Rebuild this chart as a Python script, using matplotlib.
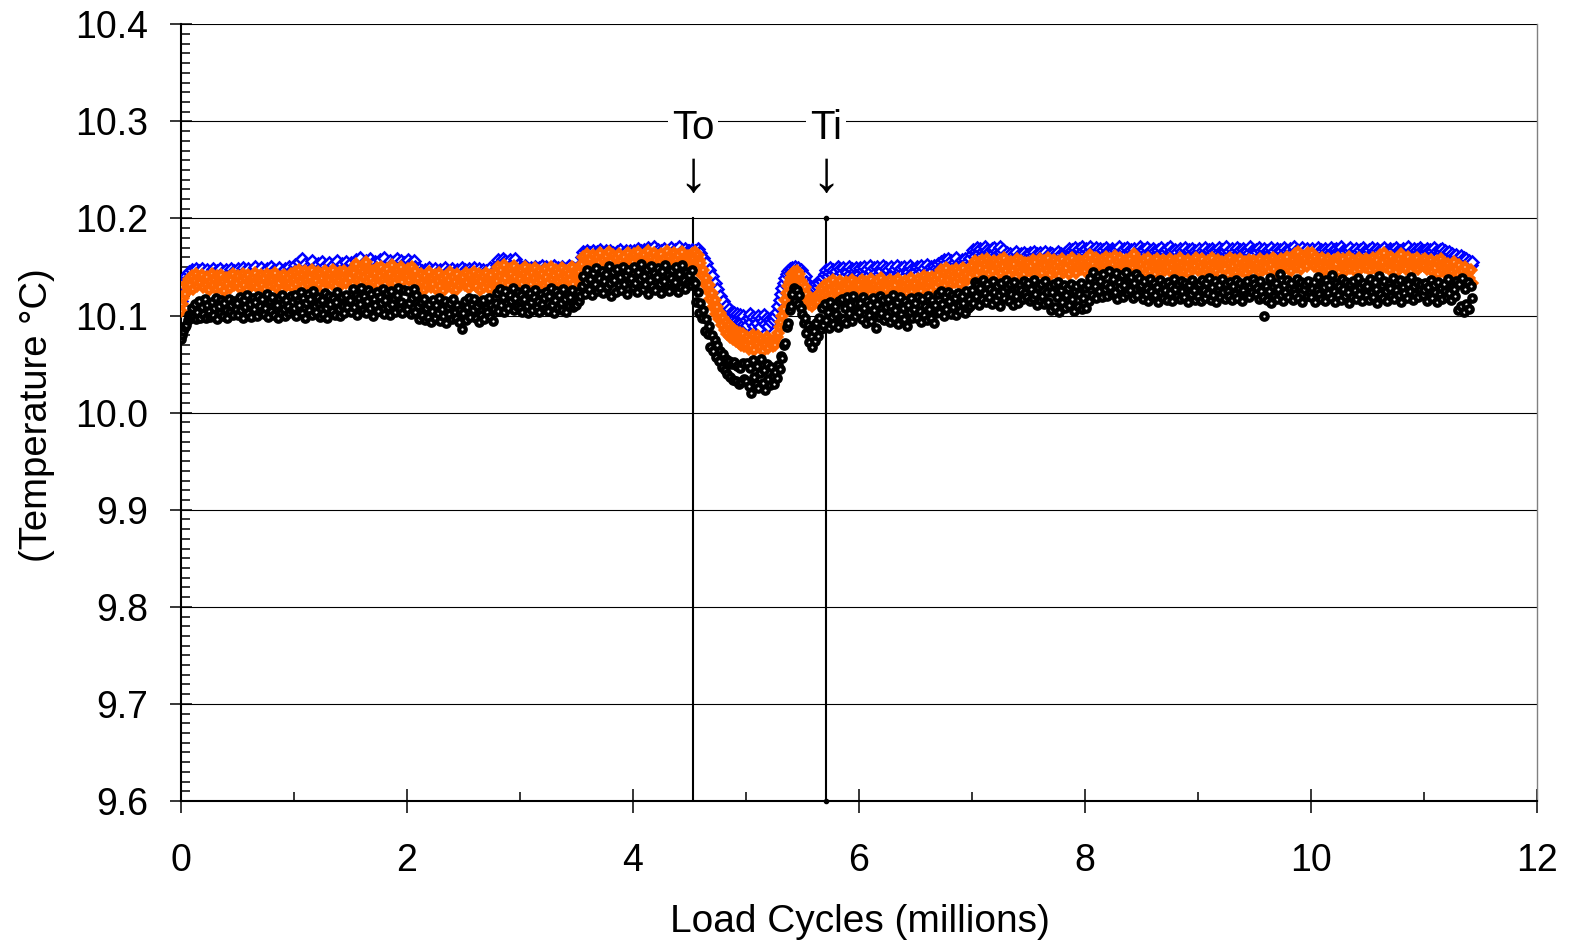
import numpy as np
import matplotlib
matplotlib.use("Agg")
import matplotlib.pyplot as plt
from matplotlib.ticker import MultipleLocator, FormatStrFormatter

plt.rcParams['font.family'] = ['Liberation Sans', 'DejaVu Sans']

# one reading every 12,500 load cycles (x axis in millions)
step = 0.0125
base_temp = 10.0  # deg C, readings below are millidegrees above this

# gauge readings, one row per half million cycles
blue_mc = [
    115, 124, 131, 136, 141, 138, 145, 140, 147, 136, 143, 148, 139, 146, 142, 148, 137, 145, 141, 147, 135, 144, 139, 148, 143, 136, 146, 140, 148, 138, 145, 142, 147, 134, 144, 139, 148, 141, 146, 137,
    143, 148, 138, 145, 149, 140, 146, 137, 148, 142, 139, 147, 144, 150, 141, 146, 143, 149, 138, 145, 140, 148, 136, 144, 150, 142, 147, 139, 146, 143, 149, 137, 145, 141, 148, 144, 139, 150, 142, 147,
    146, 152, 141, 149, 155, 144, 158, 142, 153, 147, 143, 151, 148, 156, 145, 150, 146, 153, 142, 149, 155, 144, 151, 147, 140, 154, 148, 143, 152, 146, 150, 156, 145, 141, 153, 148, 144, 155, 149, 151,
    148, 154, 143, 151, 157, 146, 152, 159, 145, 153, 149, 156, 144, 151, 158, 147, 154, 150, 155, 146, 152, 157, 145, 150, 159, 148, 153, 144, 156, 151, 147, 155, 149, 158, 143, 152, 156, 146, 154, 150,
    152, 157, 149, 154, 145, 156, 150, 147, 141, 148, 139, 146, 143, 147, 140, 145, 149, 138, 146, 142, 148, 139, 145, 141, 147, 137, 144, 149, 140, 146, 143, 138, 148, 142, 145, 140, 147, 139, 144, 149,
    141, 147, 138, 144, 148, 140, 146, 143, 149, 139, 145, 148, 137, 143, 147, 141, 146, 138, 144, 149, 140, 145, 142, 147, 152, 157, 149, 155, 158, 150, 156, 148, 153, 157, 146, 154, 151, 158, 147, 152,
    144, 150, 141, 147, 151, 143, 148, 140, 149, 145, 142, 150, 146, 141, 149, 144, 151, 143, 147, 150, 145, 140, 148, 143, 151, 146, 142, 149, 144, 147, 150, 141, 146, 148, 143, 151, 145, 140, 149, 147,
    148, 145, 151, 147, 160, 165, 157, 163, 167, 159, 164, 156, 166, 161, 158, 165, 160, 168, 157, 163, 159, 166, 155, 162, 167, 158, 164, 161, 156, 165, 160, 168, 157, 163, 159, 166, 162, 158, 167, 161,
    161, 167, 158, 164, 169, 160, 166, 157, 168, 162, 159, 170, 163, 167, 158, 171, 164, 160, 168, 162, 166, 159, 169, 163, 157, 167, 161, 170, 164, 158, 168, 162, 165, 171, 160, 166, 163, 169, 159, 167,
    167, 163, 168, 162, 166, 160, 169, 164, 164, 153, 159, 148, 154, 142, 147, 136, 141, 129, 134, 122, 127, 115, 120, 109, 115, 104, 110, 100, 107, 97, 104, 95, 103, 94, 102, 93, 101, 92, 100, 91,
    95, 90, 97, 102, 93, 99, 89, 96, 92, 100, 88, 97, 94, 101, 91, 98, 89, 96, 93, 99, 95, 100, 104, 110, 116, 122, 128, 134, 139, 143, 146, 148, 145, 149, 146, 150, 147, 149, 145, 147,
    144, 140, 141, 135, 131, 127, 129, 125, 130, 128, 132, 129, 134, 137, 136, 140, 143, 147, 141, 145, 149, 143, 147, 140, 146, 150, 142, 148, 144, 149, 141, 147, 145, 150, 143, 148, 141, 146, 149, 144,
    143, 149, 141, 147, 150, 144, 148, 142, 151, 146, 140, 149, 145, 150, 143, 148, 146, 151, 142, 149, 144, 147, 141, 150, 145, 143, 148, 151, 142, 146, 149, 144, 150, 141, 147, 145, 151, 143, 148, 146,
    145, 150, 143, 148, 151, 146, 149, 142, 152, 147, 144, 150, 146, 151, 143, 149, 153, 148, 155, 151, 157, 149, 154, 158, 150, 156, 152, 147, 155, 159, 151, 154, 149, 157, 153, 158, 150, 156, 152, 159,
    163, 168, 161, 166, 170, 164, 169, 162, 167, 171, 165, 168, 160, 166, 169, 163, 170, 162, 167, 164, 171, 165, 168, 161, 160, 164, 158, 163, 156, 162, 159, 165, 157, 161, 155, 163, 158, 164, 160, 162,
    159, 164, 156, 162, 165, 158, 163, 160, 164, 157, 162, 159, 165, 155, 161, 164, 158, 163, 156, 162, 160, 165, 157, 163, 159, 161, 164, 158, 166, 169, 163, 168, 165, 170, 162, 167, 169, 164, 171, 166,
    164, 169, 162, 167, 171, 165, 168, 163, 170, 166, 161, 169, 164, 168, 162, 170, 165, 167, 163, 169, 166, 160, 168, 164, 171, 162, 167, 165, 169, 163, 170, 166, 161, 168, 164, 169, 162, 167, 165, 171,
    166, 161, 168, 164, 170, 162, 167, 165, 169, 160, 166, 163, 168, 164, 170, 161, 167, 165, 169, 163, 171, 164, 166, 162, 168, 165, 160, 169, 163, 167, 164, 170, 162, 166, 168, 161, 169, 165, 167, 163,
    165, 169, 162, 167, 164, 170, 161, 166, 168, 163, 169, 165, 160, 167, 164, 170, 162, 168, 165, 166, 171, 163, 167, 161, 169, 164, 166, 162, 170, 165, 168, 163, 169, 166, 160, 167, 164, 171, 162, 168,
    163, 168, 165, 170, 161, 167, 164, 169, 162, 166, 168, 163, 170, 165, 167, 161, 169, 164, 168, 166, 162, 170, 165, 167, 163, 169, 160, 166, 171, 164, 168, 162, 167, 165, 170, 163, 166, 169, 161, 167,
    162, 169, 165, 167, 163, 170, 164, 168, 166, 161, 169, 165, 167, 163, 170, 164, 168, 162, 169, 166, 164, 171, 163, 167, 165, 160, 168, 166, 170, 162, 167, 164, 169, 165, 161, 168, 163, 170, 166, 164,
    164, 168, 162, 170, 165, 167, 163, 169, 166, 161, 168, 164, 170, 165, 167, 162, 169, 166, 168, 163, 170, 165, 161, 167, 164, 169, 162, 168, 166, 171, 163, 167, 165, 169, 162, 168, 164, 170, 166, 163,
    167, 164, 169, 165, 168, 162, 166, 170, 164, 167, 161, 168, 165, 169, 163, 166, 164, 160, 165, 158, 163, 161, 157, 162, 159, 155, 161, 156, 159, 154, 158, 153, 156, 152, 155,
]

orange_mc = [
    105, 112, 118, 122, 133, 128, 138, 131, 141, 127, 136, 143, 130, 139, 134, 142, 129, 137, 132, 140, 126, 135, 143, 131, 138, 127, 141, 134, 129, 142, 136, 125, 139, 133, 140, 128, 137, 143, 131, 135,
    134, 141, 128, 137, 143, 131, 139, 126, 142, 135, 130, 140, 133, 144, 129, 138, 136, 142, 131, 139, 127, 143, 135, 130, 141, 137, 132, 144, 128, 138, 134, 140, 126, 142, 136, 131, 139, 133, 143, 129,
    137, 145, 132, 141, 147, 135, 143, 130, 146, 138, 133, 144, 140, 147, 134, 142, 136, 145, 131, 143, 139, 128, 146, 135, 141, 137, 144, 132, 147, 138, 130, 143, 136, 145, 133, 140, 146, 134, 142, 139,
    139, 146, 133, 144, 153, 137, 142, 148, 135, 145, 140, 155, 136, 143, 147, 138, 146, 134, 144, 149, 131, 141, 150, 137, 145, 133, 148, 139, 143, 136, 152, 140, 134, 147, 142, 138, 150, 135, 144, 141,
    141, 148, 137, 145, 150, 139, 146, 134, 139, 128, 143, 134, 126, 141, 131, 137, 145, 129, 138, 133, 142, 127, 136, 144, 130, 139, 125, 134, 141, 132, 137, 145, 128, 140, 135, 126, 143, 131, 138, 136,
    140, 131, 144, 135, 128, 142, 137, 133, 145, 130, 139, 143, 126, 136, 141, 129, 144, 134, 138, 127, 142, 132, 137, 145, 136, 150, 141, 147, 134, 152, 139, 145, 131, 148, 143, 137, 151, 140, 146, 133,
    138, 146, 133, 143, 150, 136, 141, 147, 132, 144, 139, 149, 135, 142, 146, 137, 143, 131, 148, 140, 134, 145, 150, 138, 142, 130, 147, 136, 144, 139, 149, 133, 141, 146, 135, 143, 137, 150, 132, 145,
    142, 137, 145, 139, 153, 160, 148, 157, 163, 151, 158, 146, 162, 154, 149, 160, 155, 164, 150, 158, 147, 161, 153, 165, 149, 156, 162, 145, 159, 152, 163, 148, 157, 151, 160, 154, 146, 164, 155, 159,
    155, 163, 149, 159, 165, 152, 160, 147, 162, 156, 151, 166, 154, 159, 148, 164, 157, 150, 161, 155, 163, 149, 158, 153, 166, 147, 160, 156, 152, 164, 150, 158, 162, 148, 155, 165, 151, 159, 154, 161,
    160, 156, 163, 158, 165, 155, 162, 157, 154, 142, 147, 133, 139, 125, 131, 117, 123, 109, 116, 102, 109, 96, 103, 90, 98, 85, 93, 81, 90, 78, 87, 76, 85, 74, 83, 72, 82, 70, 81, 69,
    70, 78, 66, 75, 69, 80, 65, 74, 71, 79, 68, 76, 64, 73, 70, 78, 67, 75, 72, 69, 74, 70, 78, 82, 88, 93, 100, 107, 116, 123, 130, 135, 139, 143, 145, 141, 146, 140, 143, 136,
    132, 126, 129, 122, 116, 112, 118, 110, 115, 113, 119, 114, 122, 118, 128, 120, 131, 124, 119, 134, 126, 121, 137, 128, 123, 133, 125, 136, 120, 130, 127, 135, 122, 132, 126, 137, 124, 129, 134, 121,
    131, 124, 137, 128, 121, 135, 129, 133, 122, 138, 127, 132, 125, 136, 130, 123, 139, 128, 134, 126, 120, 133, 137, 129, 124, 135, 131, 122, 138, 127, 134, 126, 130, 136, 123, 132, 128, 139, 125, 131,
    133, 127, 138, 130, 125, 136, 141, 131, 128, 139, 134, 126, 140, 132, 137, 129, 142, 135, 147, 138, 144, 131, 149, 137, 143, 133, 146, 140, 135, 148, 139, 145, 132, 141, 149, 136, 143, 138, 147, 140,
    151, 145, 156, 148, 142, 154, 149, 157, 144, 152, 147, 158, 143, 155, 150, 146, 156, 141, 153, 148, 157, 144, 151, 159, 146, 154, 142, 150, 155, 147, 153, 140, 158, 149, 145, 156, 151, 143, 154, 148,
    154, 146, 151, 157, 143, 155, 149, 145, 158, 150, 144, 156, 152, 147, 159, 142, 153, 148, 157, 151, 146, 155, 141, 150, 158, 145, 153, 149, 156, 143, 152, 159, 147, 154, 144, 151, 157, 148, 155, 150,
    146, 158, 150, 155, 162, 148, 153, 145, 159, 151, 156, 144, 157, 149, 154, 160, 147, 152, 158, 146, 153, 161, 148, 156, 143, 159, 150, 155, 147, 157, 151, 145, 158, 152, 149, 163, 154, 146, 156, 150,
    153, 148, 157, 144, 151, 159, 146, 154, 150, 156, 143, 158, 149, 152, 145, 157, 151, 147, 155, 150, 158, 146, 153, 142, 156, 149, 154, 159, 147, 152, 145, 155, 150, 157, 144, 153, 148, 156, 151, 159,
    147, 155, 150, 158, 144, 153, 148, 156, 151, 145, 159, 149, 154, 146, 157, 152, 143, 155, 150, 148, 156, 142, 153, 159, 147, 151, 157, 145, 154, 149, 158, 146, 152, 155, 144, 150, 157, 148, 153, 156,
    156, 149, 153, 145, 158, 151, 147, 155, 150, 157, 146, 154, 152, 159, 148, 156, 143, 153, 150, 158, 147, 155, 151, 160, 149, 154, 146, 157, 152, 163, 150, 165, 154, 148, 161, 153, 158, 151, 164, 156,
    158, 164, 151, 160, 155, 149, 157, 152, 159, 146, 154, 150, 158, 147, 155, 151, 157, 148, 153, 159, 145, 156, 150, 158, 152, 147, 155, 160, 149, 153, 157, 146, 154, 151, 159, 148, 156, 152, 150, 158,
    150, 156, 147, 154, 159, 152, 148, 157, 151, 162, 149, 155, 164, 150, 158, 153, 147, 160, 152, 156, 145, 154, 158, 149, 163, 151, 156, 148, 155, 160, 152, 146, 157, 153, 150, 159, 148, 155, 151, 157,
    151, 158, 148, 155, 150, 157, 146, 153, 149, 156, 143, 152, 158, 147, 154, 150, 145, 153, 140, 150, 146, 155, 138, 148, 143, 152, 137, 146, 141, 150, 135, 144, 139, 147, 134,
]

black_mc = [
    76, 80, 84, 88, 90, 95, 101, 97, 108, 99, 112, 96, 104, 115, 98, 109, 102, 117, 97, 111, 105, 99, 114, 101, 108, 118, 96, 110, 103, 116, 100, 113, 106, 98, 117, 104, 111, 101, 115, 107,
    113, 101, 119, 106, 98, 116, 109, 121, 103, 112, 99, 118, 107, 114, 100, 120, 110, 104, 117, 102, 108, 122, 99, 115, 105, 119, 101, 113, 111, 97, 118, 104, 121, 107, 100, 116, 110, 103, 120, 106,
    108, 121, 100, 115, 111, 124, 103, 118, 97, 113, 122, 106, 117, 101, 125, 110, 104, 119, 113, 99, 116, 102, 123, 108, 98, 120, 112, 105, 118, 101, 114, 124, 107, 100, 119, 110, 103, 121, 109, 115,
    116, 104, 127, 109, 121, 101, 118, 112, 128, 106, 120, 103, 115, 126, 108, 122, 100, 117, 111, 124, 105, 119, 113, 127, 102, 116, 123, 109, 101, 125, 112, 118, 104, 121, 128, 107, 114, 103, 126, 110,
    107, 125, 113, 102, 118, 127, 104, 121, 110, 96, 114, 101, 117, 95, 108, 99, 112, 93, 105, 116, 97, 111, 103, 118, 94, 107, 100, 115, 92, 109, 102, 113, 96, 117, 104, 98, 111, 93, 106, 86,
    103, 115, 95, 109, 118, 99, 112, 106, 117, 97, 110, 93, 114, 101, 116, 96, 108, 104, 118, 99, 111, 94, 107, 113, 123, 105, 127, 111, 119, 104, 125, 113, 108, 121, 115, 128, 106, 118, 110, 124,
    108, 121, 104, 117, 127, 110, 103, 123, 114, 106, 119, 126, 109, 115, 104, 122, 112, 118, 107, 124, 105, 120, 128, 111, 103, 116, 125, 108, 121, 113, 106, 127, 117, 104, 122, 110, 119, 126, 109, 114,
    111, 124, 115, 120, 130, 141, 122, 135, 147, 127, 138, 121, 144, 132, 149, 125, 139, 128, 146, 123, 136, 143, 129, 151, 134, 120, 145, 137, 124, 148, 131, 140, 126, 150, 133, 142, 122, 147, 135, 139,
    129, 150, 134, 124, 145, 138, 153, 127, 141, 132, 148, 122, 137, 151, 130, 144, 126, 140, 149, 133, 123, 146, 136, 152, 128, 142, 125, 139, 147, 131, 135, 150, 124, 143, 129, 152, 137, 127, 145, 134,
    142, 131, 147, 136, 134, 114, 124, 103, 113, 97, 106, 84, 96, 81, 89, 68, 80, 64, 75, 57, 70, 53, 63, 47, 60, 44, 55, 40, 53, 37, 50, 34, 52, 33, 48, 30, 46, 32, 51, 35,
    33, 51, 27, 46, 20, 54, 37, 29, 48, 25, 41, 55, 31, 44, 23, 50, 35, 28, 47, 38, 30, 42, 36, 49, 45, 58, 56, 70, 72, 88, 92, 106, 110, 122, 128, 115, 126, 112, 121, 108,
    102, 92, 98, 82, 90, 73, 86, 68, 84, 74, 92, 79, 97, 86, 108, 90, 112, 95, 104, 87, 114, 99, 91, 110, 102, 88, 115, 97, 117, 96, 108, 92, 119, 103, 111, 94, 120, 100, 113, 106,
    104, 113, 96, 119, 108, 92, 115, 101, 111, 94, 118, 106, 87, 112, 99, 120, 103, 116, 95, 109, 100, 117, 93, 110, 121, 98, 106, 114, 91, 119, 102, 108, 96, 115, 89, 111, 104, 118, 97, 107,
    113, 97, 119, 105, 93, 117, 101, 110, 95, 120, 107, 98, 116, 92, 111, 103, 122, 104, 125, 112, 100, 119, 107, 124, 115, 102, 121, 109, 118, 101, 123, 111, 105, 120, 113, 103, 125, 108, 117, 110,
    126, 113, 135, 120, 131, 111, 128, 117, 137, 123, 114, 133, 119, 127, 112, 136, 124, 116, 130, 121, 110, 134, 125, 118, 137, 129, 115, 132, 122, 111, 135, 120, 128, 113, 131, 126, 117, 136, 123, 119,
    134, 115, 127, 118, 137, 122, 111, 129, 116, 133, 120, 112, 136, 124, 114, 130, 106, 124, 132, 109, 119, 135, 104, 126, 114, 131, 108, 121, 128, 111, 133, 117, 105, 125, 130, 110, 122, 134, 107, 118,
    128, 108, 131, 115, 139, 121, 145, 130, 118, 141, 125, 136, 119, 143, 127, 133, 120, 146, 129, 122, 138, 124, 144, 117, 135, 128, 142, 119, 131, 145, 123, 137, 126, 140, 118, 134, 143, 121, 139, 129,
    131, 117, 136, 122, 128, 115, 138, 125, 119, 134, 121, 129, 114, 137, 124, 118, 133, 126, 116, 135, 123, 130, 115, 138, 127, 120, 132, 117, 136, 125, 119, 134, 128, 114, 131, 122, 137, 126, 116, 133,
    120, 132, 115, 137, 126, 118, 134, 123, 139, 116, 129, 121, 136, 114, 127, 131, 119, 138, 124, 117, 133, 125, 120, 135, 116, 130, 122, 137, 118, 128, 134, 115, 126, 132, 121, 136, 119, 129, 124, 138,
    133, 122, 128, 117, 136, 125, 119, 100, 130, 116, 125, 139, 113, 130, 120, 134, 117, 127, 143, 121, 115, 131, 124, 137, 119, 128, 134, 116, 126, 122, 138, 118, 129, 135, 114, 127, 132, 120, 136, 124,
    119, 128, 135, 114, 126, 140, 122, 117, 133, 129, 115, 137, 123, 131, 118, 142, 125, 114, 134, 121, 130, 116, 138, 127, 120, 135, 124, 113, 132, 119, 136, 126, 117, 139, 122, 129, 115, 134, 128, 121,
    130, 116, 138, 124, 119, 135, 127, 113, 141, 122, 131, 118, 136, 125, 115, 133, 128, 120, 139, 117, 126, 134, 121, 137, 114, 129, 123, 136, 118, 132, 125, 140, 116, 130, 122, 135, 119, 127, 133, 121,
    126, 134, 115, 129, 121, 137, 118, 131, 124, 114, 135, 122, 128, 117, 133, 125, 119, 138, 123, 116, 130, 127, 120, 136, 106, 132, 110, 139, 104, 127, 112, 135, 107, 130, 118,
]

# event markers (millions of cycles)
events = ['To', 'Ti']
event_x = [4.533, 5.71]


def to_series(vals):
    temps = base_temp + np.array(vals) / 1000.0
    return np.arange(len(vals)) * step, temps


fig = plt.figure(figsize=(15.77, 9.48), dpi=100)
ax = fig.add_axes([180.5 / 1577, 1 - 801 / 948, (1537 - 180.5) / 1577, (801 - 24.3) / 948])

x, y = to_series(blue_mc)
ax.plot(x, y, ls='none', marker='D', ms=6.0, mfc='white', mec='#0000ff', mew=1.8, zorder=3)
x, y = to_series(orange_mc)
ax.plot(x, y, ls='none', marker='D', ms=4.5, mfc='white', mec='#ff6600', mew=3.2, zorder=4)
x, y = to_series(black_mc)
ax.plot(x, y, ls='none', marker='o', ms=4.7, mfc='white', mec='black', mew=3.0, zorder=5)

# vertical event lines with labels above
for name, xe in zip(events, event_x):
    ax.plot([xe, xe], [9.6, 10.2], color='black', lw=1.5, zorder=2.5)
    ax.text(xe, 10.293, name, ha='center', va='center', fontsize=29,
            bbox=dict(facecolor='white', edgecolor='none', pad=3), zorder=6)
    ax.text(xe, 10.244, '\u2193', ha='center', va='center', fontsize=42, zorder=6)
ax.plot([event_x[1], event_x[1]], [9.6, 10.2], ls='none', marker='o', ms=3,
        color='black', zorder=6, clip_on=False)

ax.set_xlim(0, 12)
ax.set_ylim(9.6, 10.4)
ax.xaxis.set_major_locator(MultipleLocator(2))
ax.xaxis.set_minor_locator(MultipleLocator(1))
ax.yaxis.set_major_locator(MultipleLocator(0.1))
ax.yaxis.set_minor_locator(MultipleLocator(0.01))
ax.yaxis.set_major_formatter(FormatStrFormatter('%.1f'))

ax.set_axisbelow(True)
ax.yaxis.grid(True, which='major', color='black', lw=0.8)

ax.tick_params(axis='y', which='major', direction='inout', length=16, width=1.1,
               labelsize=27, pad=15)
ax.tick_params(axis='y', which='minor', direction='in', length=6.5, width=1.1)
ax.tick_params(axis='x', which='major', direction='inout', length=17, width=1.1,
               labelsize=27, pad=22)
ax.tick_params(axis='x', which='minor', direction='in', length=6.5, width=1.1)

ax.spines['top'].set_visible(False)
ax.spines['right'].set_color('#808080')
ax.spines['right'].set_linewidth(1.0)
ax.spines['left'].set_linewidth(1.5)
ax.spines['bottom'].set_linewidth(1.5)

fig.text(37 / 1577, 1 - 415 / 948, '(Temperature \u00b0C)', rotation=90,
         ha='center', va='center', fontsize=27.5)
fig.text(860 / 1577, 1 - 922 / 948, 'Load Cycles (millions)', ha='center',
         va='center', fontsize=28)

fig.savefig('out.png', dpi=100)
